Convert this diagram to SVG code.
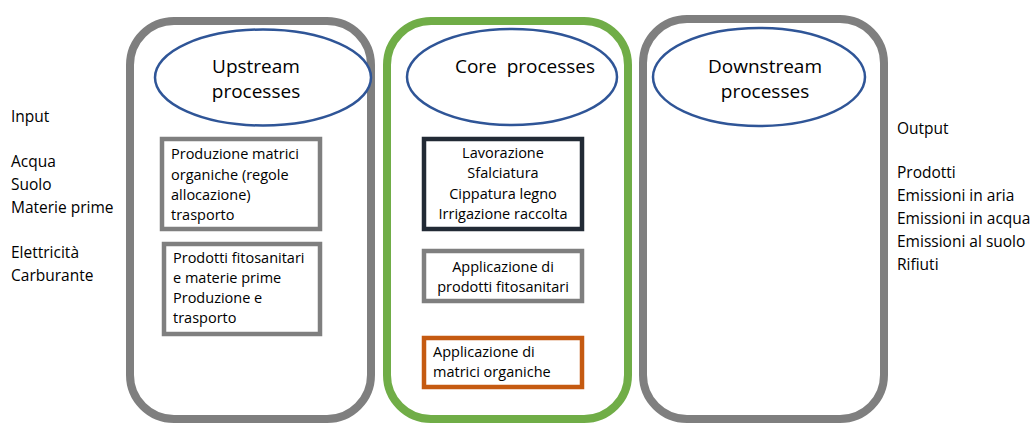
<svg xmlns="http://www.w3.org/2000/svg" width="1031" height="424" viewBox="0 0 1031 424">
<style>
text{font-family:"Open Sans",Lato,"Liberation Sans",sans-serif;fill:#000}
.side{font-size:15.5px}
.box{font-size:14.5px}
.title{font-size:19px;text-anchor:middle}
.mid{text-anchor:middle}
.cont{fill:#fff;stroke-width:8}
.ell{fill:#fff;stroke:#2F5597;stroke-width:2.5}
.rb{fill:#fff;stroke-width:4.5}
</style>
<rect width="1031" height="424" fill="#fff"/>
<g id="input-labels" class="side">
<text x="11" y="122">Input</text>
<text x="11" y="167">Acqua</text>
<text x="11" y="190">Suolo</text>
<text x="11" y="213">Materie prime</text>
<text x="11" y="258">Elettricità</text>
<text x="11" y="281">Carburante</text>
</g>
<g id="upstream">
<rect class="cont" x="130" y="21" width="241" height="398" rx="44" stroke="#7F7F7F"/>
<ellipse class="ell" cx="263" cy="77.5" rx="108" ry="48"/>
<text class="title" x="256" y="73">Upstream</text>
<text class="title" x="256" y="98">processes</text>
</g>
<g id="up-box1">
<rect class="rb" x="162" y="139" width="158" height="90" stroke="#7F7F7F"/>
<text class="box" x="171" y="159">Produzione matrici</text>
<text class="box" x="171" y="180">organiche (regole</text>
<text class="box" x="171" y="200">allocazione)</text>
<text class="box" x="171" y="220">trasporto</text>
</g>
<g id="up-box2">
<rect class="rb" x="164" y="244" width="156" height="90" stroke="#7F7F7F"/>
<text class="box" x="173" y="263">Prodotti fitosanitari</text>
<text class="box" x="173" y="283">e materie prime</text>
<text class="box" x="173" y="303">Produzione e</text>
<text class="box" x="173" y="323">trasporto</text>
</g>
<g id="core">
<rect class="cont" x="387" y="21" width="241" height="398" rx="44" stroke="#70AD47"/>
<ellipse class="ell" cx="512" cy="77" rx="105" ry="48"/>
<text class="title" x="525" y="73" xml:space="preserve">Core  processes</text>
</g>
<g id="core-box1">
<rect class="rb" x="424" y="139" width="158" height="90" stroke="#222A35"/>
<text class="box mid" x="503" y="158">Lavorazione</text>
<text class="box mid" x="503" y="178">Sfalciatura</text>
<text class="box mid" x="503" y="199">Cippatura legno</text>
<text class="box mid" x="503" y="219">Irrigazione raccolta</text>
</g>
<g id="core-box2">
<rect class="rb" x="424" y="251" width="158" height="50" stroke="#7F7F7F"/>
<text class="box mid" x="503" y="272">Applicazione di</text>
<text class="box mid" x="503" y="292">prodotti fitosanitari</text>
</g>
<g id="core-box3">
<rect class="rb" x="424" y="338" width="158" height="49" stroke="#C55A11"/>
<text class="box" x="433" y="357">Applicazione di</text>
<text class="box" x="433" y="377">matrici organiche</text>
</g>
<g id="downstream">
<rect class="cont" x="643" y="19" width="241" height="400" rx="44" stroke="#7F7F7F"/>
<ellipse class="ell" cx="759" cy="77" rx="106" ry="49"/>
<text class="title" x="765" y="73">Downstream</text>
<text class="title" x="765" y="98">processes</text>
</g>
<g id="output-labels" class="side">
<text x="897" y="134">Output</text>
<text x="897" y="178">Prodotti</text>
<text x="897" y="201">Emissioni in aria</text>
<text x="897" y="224">Emissioni in acqua</text>
<text x="897" y="247">Emissioni al suolo</text>
<text x="897" y="270">Rifiuti</text>
</g>
<g id="connectors"></g>
</svg>
